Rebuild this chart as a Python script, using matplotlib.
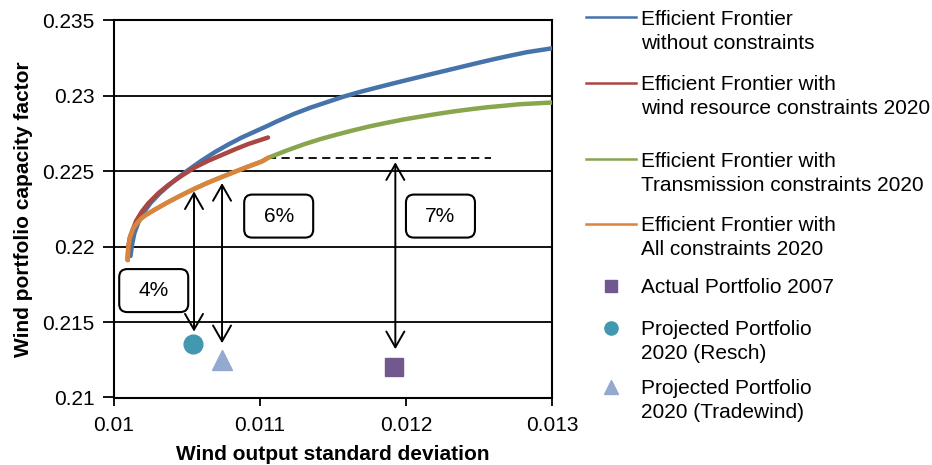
import matplotlib
matplotlib.use("Agg")
import matplotlib.pyplot as plt
from matplotlib.lines import Line2D
from matplotlib.patches import FancyBboxPatch
from matplotlib.transforms import ScaledTranslation

plt.rcParams["font.family"] = ["Liberation Sans", "DejaVu Sans"]
plt.rcParams["font.size"] = 15

# Efficient frontier without constraints (std deviation, capacity factor)
free_x = [0.010113, 0.010123, 0.010140, 0.010168, 0.010205, 0.010253, 0.010315,
          0.010370, 0.010418, 0.010509, 0.010601, 0.010692, 0.010783, 0.010875,
          0.010966, 0.011055, 0.011114, 0.011228, 0.011342, 0.011457, 0.011571,
          0.011685, 0.011799, 0.011913, 0.012027, 0.012142, 0.012256, 0.012370,
          0.012484, 0.012598, 0.012712, 0.012827, 0.013000]
free_y = [0.219383, 0.220112, 0.220908, 0.221637, 0.222301, 0.222931, 0.223561,
          0.224025, 0.224423, 0.225086, 0.225716, 0.226279, 0.226777, 0.227241,
          0.227639, 0.228030, 0.228302, 0.228786, 0.229210, 0.229581, 0.229947,
          0.230265, 0.230550, 0.230829, 0.231101, 0.231372, 0.231637, 0.231903,
          0.232168, 0.232427, 0.232666, 0.232898, 0.233156]

# Efficient frontier with wind resource constraints 2020
wind_x = [0.010094, 0.010098, 0.010110, 0.010132, 0.010151, 0.010190, 0.010235,
          0.010303, 0.010372, 0.010464, 0.010555, 0.010646, 0.010738, 0.010829,
          0.010920, 0.011055]
wind_y = [0.219118, 0.219980, 0.220643, 0.221206, 0.221704, 0.222320, 0.222877,
          0.223541, 0.224091, 0.224708, 0.225265, 0.225702, 0.226080, 0.226459,
          0.226810, 0.227241]

# Efficient frontier with all constraints 2020
all_x = [0.010094, 0.010098, 0.010110, 0.010132, 0.010148, 0.010166, 0.010188,
         0.010212, 0.010281, 0.010372, 0.010464, 0.010555, 0.010646, 0.010738,
         0.010829, 0.010920, 0.011012, 0.011057]
all_y = [0.219118, 0.219980, 0.220643, 0.221206, 0.221452, 0.221671, 0.221889,
         0.222068, 0.222467, 0.222964, 0.223428, 0.223859, 0.224257, 0.224622,
         0.224973, 0.225318, 0.225650, 0.225900]

# Efficient frontier with transmission constraints 2020 (continues past all-constraints end)
trans_x = all_x + [0.011183, 0.011297, 0.011411, 0.011525, 0.011639, 0.011753,
                   0.011868, 0.011982, 0.012096, 0.012210, 0.012324, 0.012438,
                   0.012553, 0.012666, 0.012781, 0.013000]
trans_y = all_y + [0.226379, 0.226777, 0.227128, 0.227433, 0.227719, 0.227984,
                   0.228216, 0.228435, 0.228621, 0.228800, 0.228966, 0.229111,
                   0.229244, 0.229343, 0.229450, 0.229562]

# Individual portfolios
actual_2007 = (0.011918, 0.21205)
resch_2020 = (0.010540, 0.21353)
tradewind_2020 = (0.010738, 0.21249)

# Gap arrows: x, lower end, upper end
arrow_x = [0.010548, 0.010740, 0.011927]
arrow_lo = [0.21437, 0.21360, 0.21320]
arrow_hi = [0.22367, 0.22422, 0.22560]

# Gap labels
gap_labels = ["4%", "6%", "7%"]
gap_x = [0.010272, 0.011128, 0.012236]
gap_y = [0.21709, 0.22203, 0.22203]

# Dashed reference level runs from the all-constraints end point to here
ref_end_x = 0.01258

x_ticks = [0.010, 0.011, 0.012, 0.013]
x_tick_labels = ["0.01", "0.011", "0.012", "0.013"]
y_ticks = [0.21, 0.215, 0.22, 0.225, 0.23, 0.235]
y_tick_labels = ["0.21", "0.215", "0.22", "0.225", "0.23", "0.235"]

C_BLUE = "#4573AA"
C_RED = "#AA4643"
C_GREEN = "#89A54E"
C_ORANGE = "#DB843D"
C_PURPLE = "#71588F"
C_TEAL = "#4198AF"
C_LBLUE = "#93A9CF"

W, H = 932, 465
fig = plt.figure(figsize=(W / 100, H / 100), dpi=100)
ax = fig.add_axes([114 / W, 1 - 397.5 / H, 438 / W, 377 / H])

ax.set_xlim(0.010, 0.013)
ax.set_ylim(0.21, 0.235)
for yv in y_ticks[1:-1]:
    ax.axhline(yv, color="black", lw=1.3, zorder=1)

lw = 3.2
style = dict(lw=lw, solid_capstyle="round", solid_joinstyle="round")
ax.plot(free_x, free_y, color=C_BLUE, zorder=3, **style)
ax.plot(trans_x, trans_y, color=C_GREEN, zorder=3.5, **style)
ax.plot(wind_x, wind_y, color=C_RED, zorder=4, **style)
ax.plot(all_x, all_y, color=C_ORANGE, zorder=5, **style)

ax.plot([all_x[-1], ref_end_x], [all_y[-1], all_y[-1]], color="black", lw=1.3,
        ls=(0, (4.5, 3)), zorder=2)

ax.plot(*actual_2007, marker="s", ms=13.5, color=C_PURPLE, ls="none", zorder=6)
ax.plot(*resch_2020, marker="o", ms=13.5, color=C_TEAL, ls="none", zorder=6)
ax.plot(*tradewind_2020, marker="^", ms=15, color=C_LBLUE, ls="none", zorder=6)

for xa, lo, hi in zip(arrow_x, arrow_lo, arrow_hi):
    ax.annotate("", xy=(xa, lo), xytext=(xa, hi),
                arrowprops=dict(arrowstyle="<->,head_length=0.42,head_width=0.24",
                                mutation_scale=27, color="black", lw=1.4,
                                shrinkA=0, shrinkB=0), zorder=7)

bw, bh = 0.69, 0.43
for lab, gx, gy in zip(gap_labels, gap_x, gap_y):
    tr = fig.dpi_scale_trans + ScaledTranslation(gx, gy, ax.transData)
    box = FancyBboxPatch((-bw / 2, -bh / 2), bw, bh,
                         boxstyle="round,pad=0,rounding_size=0.08",
                         transform=tr, facecolor="white", edgecolor="black",
                         lw=1.5, zorder=8)
    ax.add_patch(box)
    ax.text(gx, gy, lab, ha="center", va="center", fontsize=15, zorder=9)

ax.set_xticks(x_ticks)
ax.set_xticklabels(x_tick_labels)
ax.set_yticks(y_ticks)
ax.set_yticklabels(y_tick_labels)
ax.tick_params(axis="y", direction="out", length=8, width=1.3, pad=6, labelsize=15)
ax.tick_params(axis="x", direction="out", length=6, width=1.3, pad=7, labelsize=15)
for s in ax.spines.values():
    s.set_color("black")
    s.set_linewidth(1.5)

ax.set_xlabel("Wind output standard deviation", fontsize=15, fontweight="bold")
ax.set_ylabel("Wind portfolio capacity factor", fontsize=15, fontweight="bold")
ax.xaxis.label.set_verticalalignment("baseline")
ax.yaxis.label.set_verticalalignment("baseline")
ax.xaxis.set_label_coords(0.5, (397.5 - 459.5) / 377)
ax.yaxis.set_label_coords((29.5 - 114) / 438, 0.5)


# Legend drawn in figure pixel space
def fy(py):
    return 1 - py / H


def fx(px):
    return px / W


legend_lines = [
    (C_BLUE, 17.3, ["Efficient Frontier", "without constraints"]),
    (C_RED, 82.7, ["Efficient Frontier with", "wind resource constraints 2020"]),
    (C_GREEN, 159.3, ["Efficient Frontier with", "Transmission constraints 2020"]),
    (C_ORANGE, 223.7, ["Efficient Frontier with", "All constraints 2020"]),
]
legend_marks = [
    ("s", C_PURPLE, 286, 9, ["Actual Portfolio 2007"]),
    ("o", C_TEAL, 328, 9.5, ["Projected Portfolio", "2020 (Resch)"]),
    ("^", C_LBLUE, 387, 10, ["Projected Portfolio", "2020 (Tradewind)"]),
]
text_x = 641
line_gap = 24

for col, yc, lines in legend_lines:
    fig.add_artist(Line2D([fx(586), fx(636)], [fy(yc), fy(yc)], color=col, lw=1.8))
    for i, t in enumerate(lines):
        fig.text(fx(text_x), fy(yc + i * line_gap + 7.3), t, ha="left",
                 va="baseline", fontsize=15)

for mk, col, yc, ms, lines in legend_marks:
    fig.add_artist(Line2D([fx(611)], [fy(yc)], marker=mk, ms=ms, color=col, ls="none"))
    for i, t in enumerate(lines):
        fig.text(fx(text_x), fy(yc + i * line_gap + 7.3), t, ha="left",
                 va="baseline", fontsize=15)

fig.savefig("out.png", dpi=100)
